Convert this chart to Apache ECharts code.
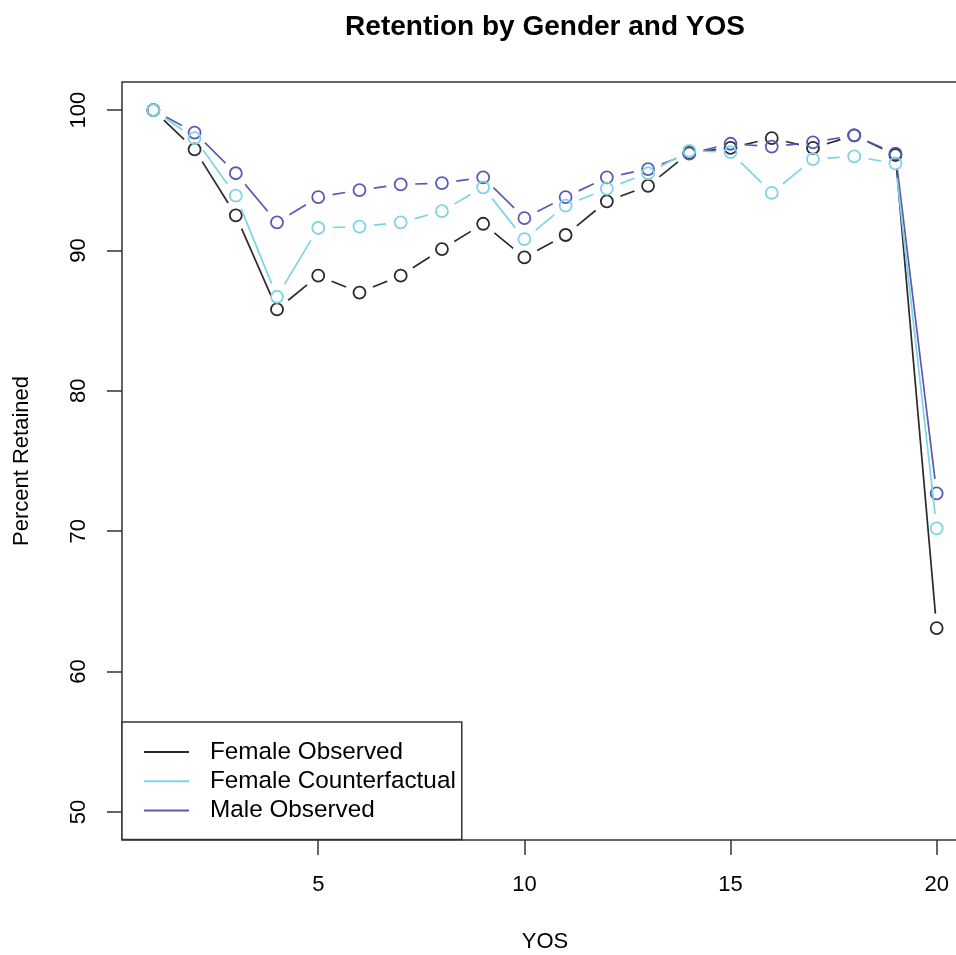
<!DOCTYPE html>
<html>
<head>
<meta charset="utf-8">
<script src="https://cdn.jsdelivr.net/npm/echarts@6/dist/echarts.min.js"></script>
<style>
html,body{margin:0;padding:0;background:#fff;}
#chart{width:956px;height:955px;}
</style>
</head>
<body>
<div id="chart"></div>
<script>
var yos = [1,2,3,4,5,6,7,8,9,10,11,12,13,14,15,16,17,18,19,20];
var femaleObserved = [100, 97.2, 92.5, 85.8, 88.2, 87.0, 88.2, 90.1, 91.9, 89.5, 91.1, 93.5, 94.6, 96.95, 97.3, 98.0, 97.3, 98.2, 96.8, 63.1];
var femaleCounterfactual = [100, 98.0, 93.9, 86.7, 91.6, 91.7, 92.0, 92.8, 94.5, 90.8, 93.2, 94.4, 95.5, 97.1, 97.0, 94.1, 96.5, 96.7, 96.2, 70.2];
var maleObserved = [100, 98.4, 95.5, 92.0, 93.8, 94.3, 94.7, 94.8, 95.2, 92.3, 93.8, 95.2, 95.8, 96.9, 97.6, 97.4, 97.7, 98.2, 96.9, 72.7];
var xTicks = [5, 10, 15, 20];
var yTicks = [50, 60, 70, 80, 90, 100];

var seriesDefs = [
  {name: 'Female Observed', data: femaleObserved, color: '#2b2b2b'},
  {name: 'Male Observed', data: maleObserved, color: '#5a5ab6'},
  {name: 'Female Counterfactual', data: femaleCounterfactual, color: '#7dd4e6'}
];
var legendOrder = ['Female Observed', 'Female Counterfactual', 'Male Observed'];
var colorOf = {};
seriesDefs.forEach(function(s){ colorOf[s.name] = s.color; });

var GAP = 14.5;
var series = [];
seriesDefs.forEach(function(s, k){
  var segs = [];
  for (var i = 0; i < yos.length - 1; i++) {
    segs.push([yos[i], s.data[i], yos[i+1], s.data[i+1]]);
  }
  series.push({
    type: 'custom',
    name: s.name,
    z: 2 + k,
    data: segs,
    encode: {x: [0, 2], y: [1, 3]},
    silent: true,
    clip: false,
    renderItem: (function(col){
      return function(params, api){
        var p0 = api.coord([api.value(0), api.value(1)]);
        var p1 = api.coord([api.value(2), api.value(3)]);
        var dx = p1[0] - p0[0], dy = p1[1] - p0[1];
        var d = Math.sqrt(dx*dx + dy*dy);
        if (d <= 2*GAP) return null;
        var ux = dx/d, uy = dy/d;
        return {
          type: 'line',
          shape: {x1: p0[0] + ux*GAP, y1: p0[1] + uy*GAP, x2: p1[0] - ux*GAP, y2: p1[1] - uy*GAP},
          style: {stroke: col, lineWidth: 1.7, fill: null}
        };
      };
    })(s.color)
  });
  series.push({
    type: 'scatter',
    name: s.name,
    z: 2 + k,
    data: yos.map(function(x, i){ return [x, s.data[i]]; }),
    symbol: 'circle',
    symbolSize: 12,
    itemStyle: {color: 'rgba(0,0,0,0)', borderColor: s.color, borderWidth: 1.8, opacity: 1},
    emphasis: {disabled: true}
  });
});

var chart = echarts.init(document.getElementById('chart'), null, {renderer: 'canvas'});
chart.setOption({
  backgroundColor: '#fff',
  animation: false,
  title: {
    text: 'Retention by Gender and YOS',
    left: 540,
    top: 8,
    textAlign: 'center',
    textStyle: {fontFamily: 'Liberation Sans', fontSize: 28, fontWeight: 'bold', color: '#000'}
  },
  grid: {
    left: 122, top: 82, width: 846, bottom: 115,
    outerBoundsMode: 'none',
    containLabel: false,
    show: true, borderColor: '#333', borderWidth: 1.5, backgroundColor: 'transparent'
  },
  legend: {
    orient: 'vertical',
    left: 122,
    top: 722,
    padding: [18, 6, 17, 22],
    itemGap: 5.3,
    itemWidth: 45,
    itemHeight: 2,
    borderColor: '#333',
    borderWidth: 1.5,
    backgroundColor: '#fff',
    selectedMode: false,
    data: legendOrder.map(function(n){
      return {name: n, icon: 'rect', itemStyle: {color: colorOf[n], borderWidth: 0}};
    }),
    textStyle: {fontFamily: 'Liberation Sans', fontSize: 24.3, color: '#000', lineHeight: 24, padding: [0, 0, 0, 16]}
  },
  xAxis: {
    type: 'value',
    min: 0.24,
    max: 20.76,
    name: 'YOS',
    nameLocation: 'middle',
    nameGap: 102,
    nameTextStyle: {fontFamily: 'Liberation Sans', fontSize: 22, color: '#000', verticalAlign: 'middle'},
    axisLine: {show: false},
    splitLine: {show: false},
    axisTick: {show: true, length: 15, customValues: xTicks, lineStyle: {color: '#333', width: 1.5}},
    axisLabel: {customValues: xTicks, margin: 45, verticalAlign: 'middle', fontFamily: 'Liberation Sans', fontSize: 22, color: '#000'}
  },
  yAxis: {
    type: 'value',
    min: 48,
    max: 102,
    name: 'Percent Retained',
    nameLocation: 'middle',
    nameGap: 100,
    nameRotate: 90,
    nameTextStyle: {fontFamily: 'Liberation Sans', fontSize: 22, color: '#000', verticalAlign: 'middle', align: 'center'},
    axisLine: {show: false},
    splitLine: {show: false},
    axisTick: {show: true, length: 15, customValues: yTicks, lineStyle: {color: '#333', width: 1.5}},
    axisLabel: {customValues: yTicks, rotate: 90, margin: 43, align: 'center', verticalAlign: 'middle', fontFamily: 'Liberation Sans', fontSize: 22, color: '#000'}
  },
  series: series
});
</script>
</body>
</html>
